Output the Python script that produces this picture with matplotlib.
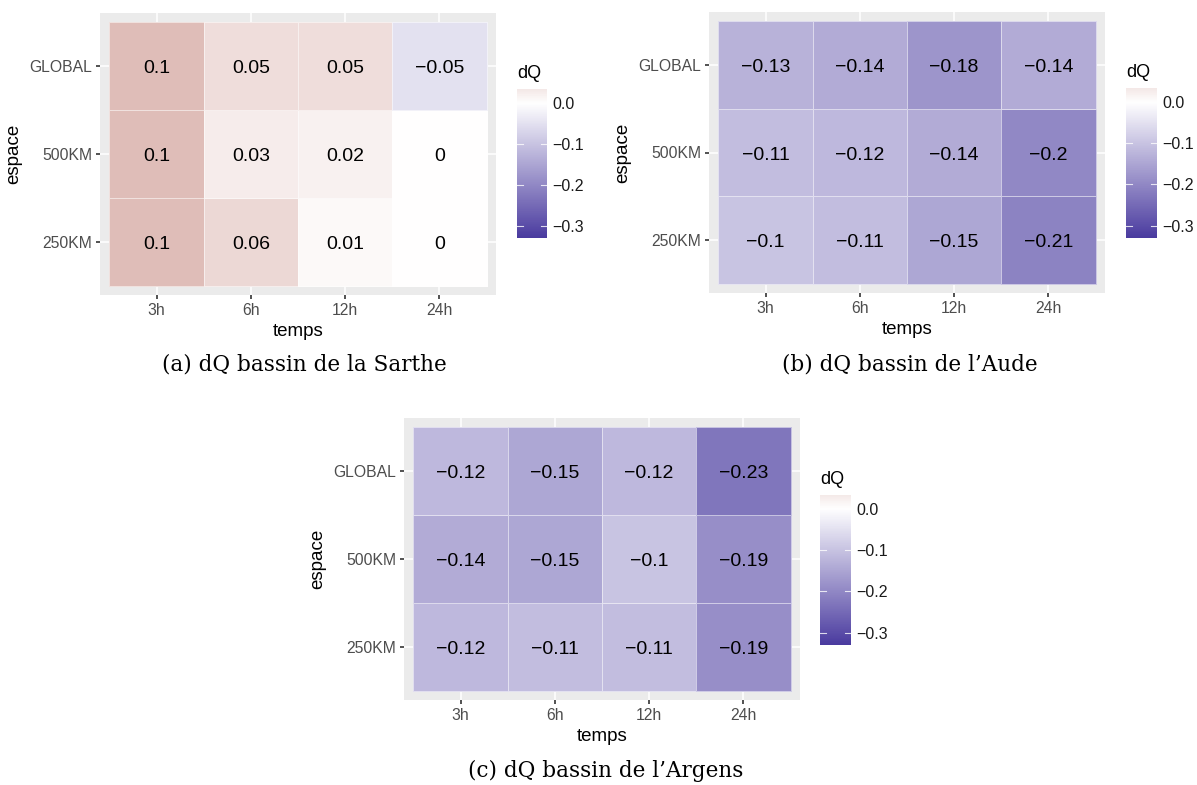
import numpy as np
import matplotlib
matplotlib.use("Agg")
import matplotlib.pyplot as plt
from matplotlib.colors import LinearSegmentedColormap, TwoSlopeNorm

# data
temps = ["3h", "6h", "12h", "24h"]
espace = ["250KM", "500KM", "GLOBAL"]  # bottom to top

# rows follow espace (250KM, 500KM, GLOBAL)
dq_sarthe = [[0.10, 0.06, 0.01, 0.00],
             [0.10, 0.03, 0.02, 0.00],
             [0.10, 0.05, 0.05, -0.05]]
dq_aude = [[-0.10, -0.11, -0.15, -0.21],
           [-0.11, -0.12, -0.14, -0.20],
           [-0.13, -0.14, -0.18, -0.14]]
dq_argens = [[-0.12, -0.11, -0.11, -0.19],
             [-0.14, -0.15, -0.10, -0.19],
             [-0.12, -0.15, -0.12, -0.23]]
captions = ["(a) dQ bassin de la Sarthe", "(b) dQ bassin de l\u2019Aude",
            "(c) dQ bassin de l\u2019Argens"]

cbar_ticks = [0.0, -0.1, -0.2, -0.3]
cbar_lo, cbar_hi = -0.33, 0.034

W, H = 1197, 785
plt.rcParams['font.family'] = ['Liberation Sans', 'DejaVu Sans']

cmap = LinearSegmentedColormap.from_list("dq", ["#40309A", "#ffffff", "#8F1807"])
norm = TwoSlopeNorm(vcenter=0.0, vmin=-0.35, vmax=0.35)

fig = plt.figure(figsize=(W / 100, H / 100), dpi=100)
fig.patch.set_facecolor("white")


def box(x0, y0, x1, y1):
    return [x0 / W, 1 - y1 / H, (x1 - x0) / W, (y1 - y0) / H]


def fmt(v):
    s = f"{v:.2f}".rstrip("0").rstrip(".")
    if s in ("-0", "0"):
        return "0"
    return s.replace("-", "\u2212")


def heatmap(rect, data, cbrect):
    ax = fig.add_axes(box(*rect))
    z = np.array(data)
    ax.set_facecolor("#EBEBEB")
    ax.set_axisbelow(True)
    ax.grid(True, color="white", linewidth=1.1)
    xe = np.arange(len(temps) + 1) - 0.5
    ye = np.arange(len(espace) + 1) - 0.5
    ax.pcolormesh(xe, ye, z, cmap=cmap, norm=norm,
                  edgecolors=(1, 1, 1, 0.55), linewidth=0.6)
    for i in range(z.shape[0]):
        for j in range(z.shape[1]):
            ax.text(j, i - 0.03, fmt(z[i, j]), ha="center", va="center",
                    fontsize=14, color="black")
    ax.set_xlim(-0.6, len(temps) - 0.4)
    ax.set_ylim(-0.6, len(espace) - 0.4)
    ax.set_xticks(range(len(temps)), temps)
    ax.set_yticks(range(len(espace)), espace)
    for s in ax.spines.values():
        s.set_visible(False)
    ax.tick_params(length=3, width=1.2, color="#333333", labelcolor="#4D4D4D",
                   labelsize=11.3, pad=2.5)
    ax.set_xlabel("temps", fontsize=13.5, labelpad=4)
    ax.set_ylabel("espace", fontsize=13.5, labelpad=5)

    # colour bar
    cx = fig.add_axes(box(*cbrect))
    grad = np.linspace(cbar_lo, cbar_hi, 200).reshape(-1, 1)
    cx.imshow(grad, cmap=cmap, norm=norm, aspect="auto", origin="lower",
              extent=(0, 1, cbar_lo, cbar_hi))
    for t in cbar_ticks:
        cx.plot([0, 0.2], [t, t], color="white", lw=0.8, alpha=0.8)
        cx.plot([0.8, 1], [t, t], color="white", lw=0.8, alpha=0.8)
    cx.set_xlim(0, 1)
    cx.set_ylim(cbar_lo, cbar_hi)
    cx.set_xticks([])
    cx.yaxis.tick_right()
    cx.set_yticks(cbar_ticks, [f"{t:.1f}".replace("-", "\u2212") for t in cbar_ticks])
    cx.tick_params(axis="y", length=0, labelsize=11.5, labelcolor="#1a1a1a", pad=4)
    for s in cx.spines.values():
        s.set_visible(False)
    cx.text(0, cbar_hi + 0.016, "dQ", fontsize=13, ha="left", va="bottom",
            color="black")
    return ax


heatmap((100, 13, 496, 295), dq_sarthe, (517, 89, 547, 238))
heatmap((709, 12, 1105, 293), dq_aude, (1126, 88, 1157, 238))
heatmap((404, 418, 800, 700), dq_argens, (820, 495, 851, 645))

cap_kw = dict(fontsize=15.5, family="DejaVu Serif", ha="center", va="center")
fig.text(304 / W, 1 - 365 / H, captions[0], **cap_kw)
fig.text(910 / W, 1 - 365 / H, captions[1], **cap_kw)
fig.text(606 / W, 1 - 771 / H, captions[2], **cap_kw)

fig.savefig("out.png", dpi=100)
